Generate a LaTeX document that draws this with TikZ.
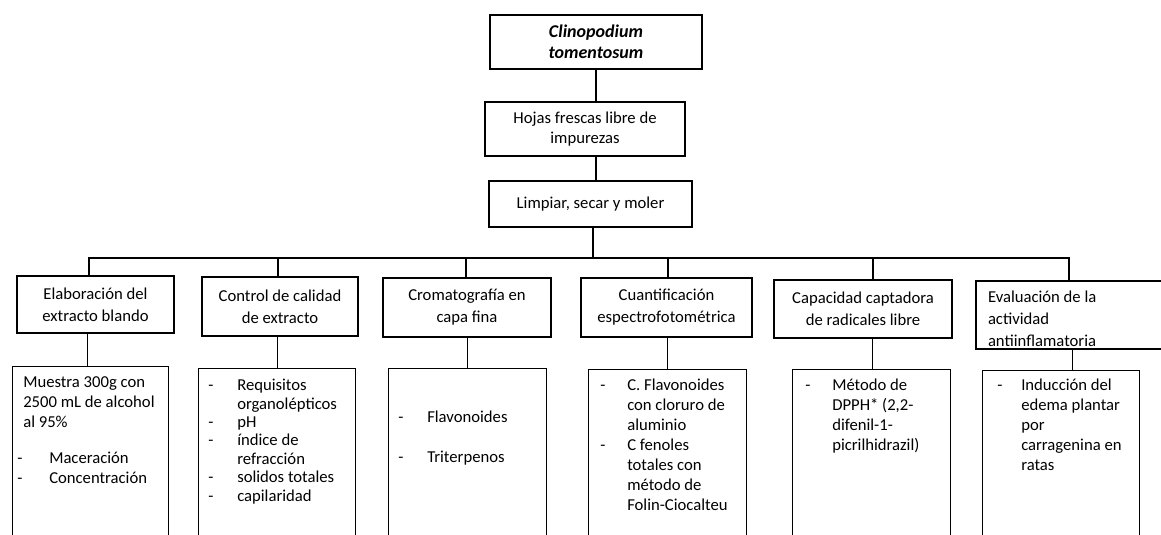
\documentclass[tikz,border=0pt]{standalone}
\usepackage{fontspec}
\setmainfont{Carlito}
\usetikzlibrary{positioning}
\newdimen\pxl \pxl=0.75pt

\begin{document}
\begin{tikzpicture}[x=0.75pt,y=-0.75pt,
    box/.style={draw,line width=0.9pt,align=center,inner sep=0pt,
      font=\fontsize{12.5}{15}\selectfont},
    catbox/.style={box,font=\fontsize{12.5}{16.5}\selectfont},
    frame/.style={draw,line width=0.9pt,inner sep=0pt,anchor=north west,
      minimum height=260\pxl},
    list/.style={anchor=north west,inner sep=0pt,font=\fontsize{12.5}{15}\selectfont},
    link/.style={line width=0.8pt},
    busline/.style={line width=2.2pt}]
  \useasboundingbox (0,0) rectangle (1161,535);
  \clip (0,0) rectangle (1161,535);
  % Define nodes
  \node[box,minimum width=212\pxl,minimum height=54\pxl,
    font=\fontsize{13.5}{16}\selectfont\bfseries\itshape] (plant) at (596,42) {Clinopodium\\tomentosum};
  \node[box,minimum width=200\pxl,minimum height=54\pxl] (hojas) at (585,129) {Hojas frescas libre de\\impurezas};
  \node[box,minimum width=203\pxl,minimum height=46\pxl] (limpiar) at (590.5,204) {Limpiar, secar y moler};
  \coordinate (bus) at (593,258);

  \node[catbox,minimum width=157\pxl,minimum height=57\pxl] (c1) at (95.5,304.5) {Elaboración del\\extracto blando};
  \node[catbox,minimum width=156\pxl,minimum height=59\pxl] (c2) at (280,306.5) {Control de calidad\\de extracto};
  \node[catbox,minimum width=168\pxl,minimum height=59\pxl] (c3) at (467,307.5) {Cromatografía en\\capa fina};
  \node[catbox,minimum width=171\pxl,minimum height=59\pxl] (c4) at (666.5,307.5) {Cuantificación\\espectrofotométrica};
  \node[catbox,minimum width=178\pxl,minimum height=58\pxl] (c5) at (863,309) {Capacidad captadora\\de radicales libre};
  \node[catbox,align=flush left,text width=180\pxl,inner xsep=12\pxl,minimum height=68\pxl] (c6) at (1078,315) {\rule{0pt}{15pt}Evaluación de la\\actividad\\antiinflamatoria};

  \node[frame,minimum width=156\pxl] (d1) at (12,366) {};
  \node[frame,minimum width=157\pxl] (d2) at (198,368) {};
  \node[frame,minimum width=158\pxl] (d3) at (388,368) {};
  \node[frame,minimum width=158\pxl] (d4) at (588,369) {};
  \node[frame,minimum width=158\pxl] (d5) at (792,369) {};
  \node[frame,minimum width=157\pxl] (d6) at (982,370) {};

  \node[list] (t1) at ([shift={(5,7)}]d1.north west) {%
    \begin{tabular}{@{}p{32\pxl}@{}l@{}}
      \multicolumn{2}{@{\hspace{6\pxl}}l@{}}{Muestra 300g con}\\
      \multicolumn{2}{@{\hspace{6\pxl}}l@{}}{2500 mL de alcohol}\\
      \multicolumn{2}{@{\hspace{6\pxl}}l@{}}{al 95\%}\\[16\pxl]
      - & Maceración\\
      - & Concentración
    \end{tabular}};
  \node[list,font=\fontsize{12.5}{13.8}\selectfont] (t2) at ([shift={(10,9.5)}]d2.north west) {%
    \begin{tabular}{@{}p{29\pxl}@{}l@{}}
      - & Requisitos\\
        & organolépticos\\
      - & pH\\
      - & índice de\\
        & refracción\\
      - & solidos totales\\
      - & capilaridad
    \end{tabular}};
  \node[list] (t3) at ([shift={(10,40.5)}]d3.north west) {%
    \begin{tabular}{@{}p{29\pxl}@{}l@{}}
      - & Flavonoides\\
        & \\
      - & Triterpenos
    \end{tabular}};
  \node[list] (t4) at ([shift={(12,7.5)}]d4.north west) {%
    \begin{tabular}{@{}p{27\pxl}@{}l@{}}
      - & C. Flavonoides\\
        & con cloruro de\\
        & aluminio\\
      - & C fenoles\\
        & totales con\\
        & método de\\
        & Folin-Ciocalteu
    \end{tabular}};
  \node[list] (t5) at ([shift={(13,7.5)}]d5.north west) {%
    \begin{tabular}{@{}p{27\pxl}@{}l@{}}
      - & Método de\\
        & DPPH* (2,2-\\
        & difenil-1-\\
        & picrilhidrazil)
    \end{tabular}};
  \node[list] (t6) at ([shift={(15,6.5)}]d6.north west) {%
    \begin{tabular}{@{}p{24\pxl}@{}l@{}}
      - & Inducción del\\
        & edema plantar\\
        & por\\
        & carragenina en\\
        & ratas
    \end{tabular}};

  % Connect nodes
  \draw[link] (plant.south) -- (plant.south |- hojas.north);
  \draw[link] (plant.south |- hojas.south) -- (plant.south |- limpiar.north);
  \draw[link] (bus |- limpiar.south) -- (bus);
  \draw[busline] ([xshift=-6.5\pxl]c1.north) |- (bus) -| ([xshift=-9\pxl]c6.north);
  \foreach \c/\dx in {c2/-2,c3/-1,c4/1.5,c5/10}
    \draw[busline] ([xshift=\dx\pxl]\c.north) -- ([xshift=\dx\pxl]\c.north |- bus);
  \foreach \c/\d/\dx in {c1/d1/-3,c2/d2/0,c3/d3/0,c4/d4/0,c5/d5/1,c6/d6/11.5}
    \draw[link] ([xshift=\dx\pxl]\d.north) -- ([xshift=\dx\pxl]\d.north |- \c.south);
\end{tikzpicture}
\end{document}
